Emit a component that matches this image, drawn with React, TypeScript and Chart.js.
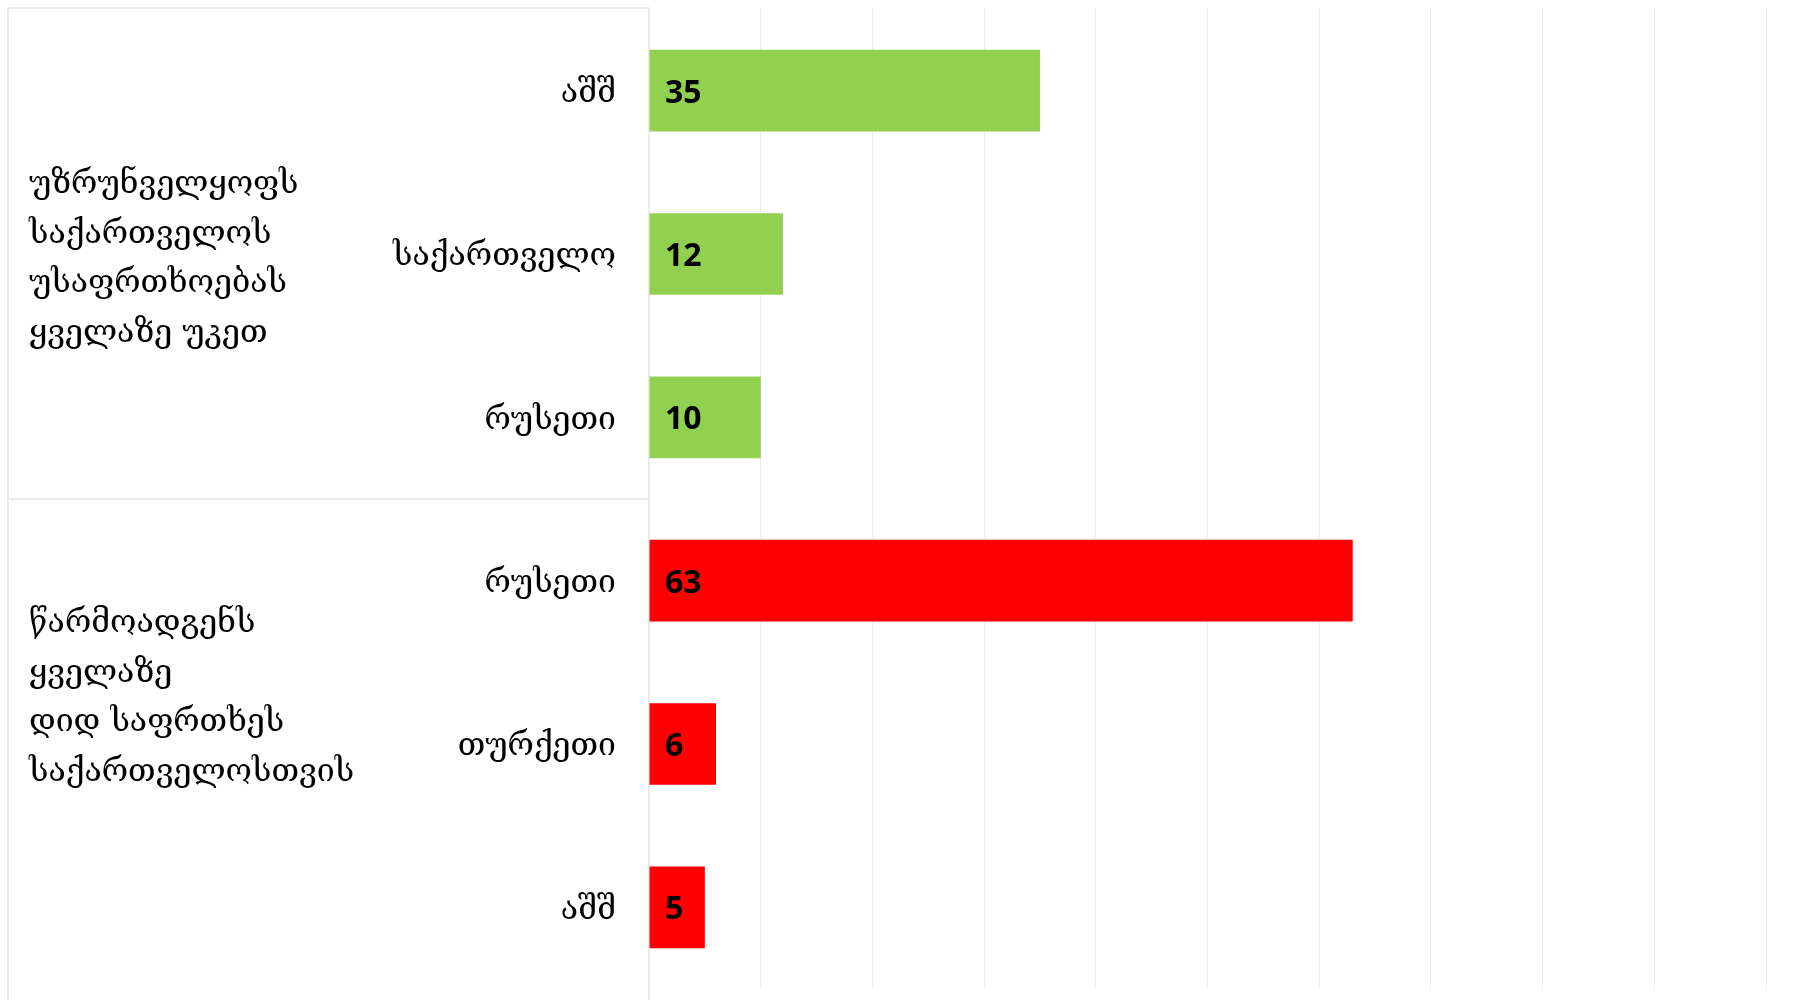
import React, { useEffect, useRef } from "react";
import { Chart, registerables } from "chart.js";

Chart.register(...registerables);

const categories = ["აშშ", "საქართველო", "რუსეთი", "რუსეთი", "თურქეთი", "აშშ"];
const values = [35, 12, 10, 63, 6, 5];
const barColors = ["#92D050", "#92D050", "#92D050", "#FF0000", "#FF0000", "#FF0000"];
const groupLabels = [
  ["უზრუნველყოფს", "საქართველოს", "უსაფრთხოებას", "ყველაზე უკეთ"],
  ["წარმოადგენს", "ყველაზე", "დიდ საფრთხეს", "საქართველოსთვის"],
];
const xMin = 0;
const xMax = 100;
const xStep = 10;

const GEO_FONT = '"DejaVu Serif", "DejaVu Sans", serif';
const NUM_FONT = '"Open Sans", sans-serif';
const GEO_SIZE = 32;

const decorPlugin = {
  id: "decor",
  beforeDatasetsDraw(chart: any) {
    const ctx = chart.ctx;
    const ca = chart.chartArea;
    const yScale = chart.scales.y;
    const left = 8;
    const right = ca.left;
    const mid = yScale.getPixelForValue(2.5);
    ctx.save();
    ctx.strokeStyle = "#ebebeb";
    ctx.lineWidth = 2;
    ctx.beginPath();
    ctx.moveTo(left, 8);
    ctx.lineTo(right, 8);
    ctx.moveTo(left, 8);
    ctx.lineTo(left, chart.height);
    ctx.moveTo(left, mid);
    ctx.lineTo(right, mid);
    ctx.moveTo(right, 8);
    ctx.lineTo(right, chart.height);
    ctx.stroke();
    ctx.restore();
  },
  afterDatasetsDraw(chart: any) {
    const ctx = chart.ctx;
    const xScale = chart.scales.x;
    const yScale = chart.scales.y;
    ctx.save();
    ctx.fillStyle = "#000000";
    ctx.font = `bold 32px ${NUM_FONT}`;
    ctx.textAlign = "left";
    ctx.textBaseline = "middle";
    const meta = chart.getDatasetMeta(0);
    meta.data.forEach((bar: any, i: number) => {
      ctx.fillText(String(values[i]), xScale.getPixelForValue(0) + 16, bar.y + 3);
    });
    ctx.font = `${GEO_SIZE}px ${GEO_FONT}`;
    const centers = [yScale.getPixelForValue(1) + 5, yScale.getPixelForValue(3.7) + 3];
    const lineH = 49.5;
    groupLabels.forEach((lines, g) => {
      const c = centers[g];
      const start = c - ((lines.length - 1) * lineH) / 2;
      lines.forEach((t, k) => {
        ctx.fillText(t, 29, start + k * lineH);
      });
    });
    ctx.restore();
  },
};

export default function App() {
  const ref = useRef<HTMLCanvasElement | null>(null);
  useEffect(() => {
    document.body.style.margin = "0";
    document.body.style.overflow = "hidden";
    const canvas = ref.current!;
    const chart = new Chart(canvas, {
      type: "bar",
      data: {
        labels: categories,
        datasets: [
          {
            data: values,
            backgroundColor: barColors,
            borderWidth: 0,
            categoryPercentage: 1,
            barPercentage: 0.5,
          },
        ],
      },
      options: {
        indexAxis: "y",
        animation: false,
        responsive: false,
        maintainAspectRatio: false,
        layout: { autoPadding: false, padding: { left: 0, right: 33, top: 9, bottom: 11 } },
        plugins: { legend: { display: false }, tooltip: { enabled: false } },
        scales: {
          x: {
            min: xMin,
            max: xMax,
            ticks: { display: false, stepSize: xStep },
            grid: { color: "#ececec", lineWidth: 1, drawTicks: false },
            border: { display: false },
            afterFit(scale: any) {
              scale.height = 0;
              scale.paddingLeft = 0;
              scale.paddingRight = 0;
            },
          },
          y: {
            ticks: {
              color: "#000000",
              font: { family: GEO_FONT, size: GEO_SIZE },
              padding: 33,
              crossAlign: "near",
              labelOffset: 3,
            },
            grid: { display: false, drawTicks: false },
            border: { display: false },
            afterFit(scale: any) {
              scale.width = 649;
              scale.paddingTop = 0;
              scale.paddingBottom = 0;
            },
          },
        },
      },
      plugins: [decorPlugin],
    } as any);
    return () => chart.destroy();
  }, []);
  return (
    <div style={{ width: 1799, height: 1000, background: "#ffffff" }}>
      <canvas ref={ref} width={1799} height={1000} style={{ display: "block" }} />
    </div>
  );
}
